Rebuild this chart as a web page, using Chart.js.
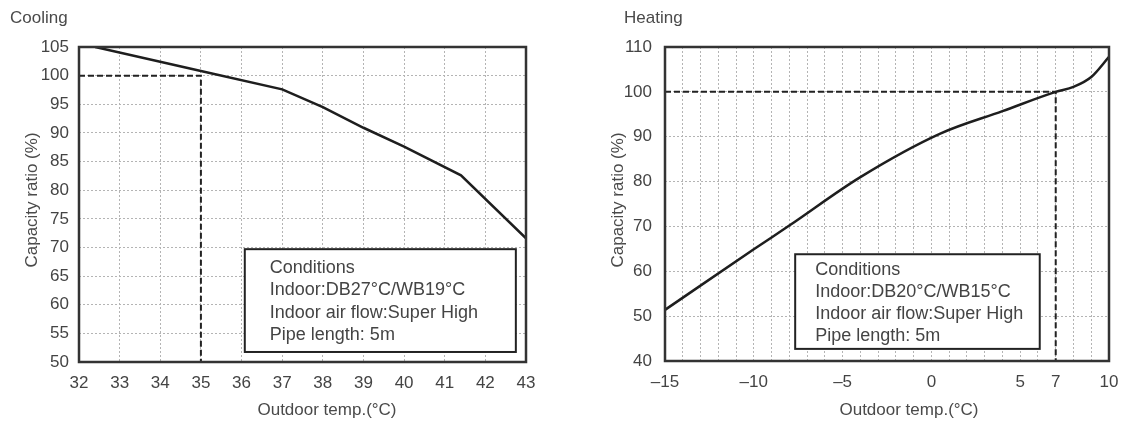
<!DOCTYPE html>
<html>
<head>
<meta charset="utf-8">
<title>Capacity ratio</title>
<script src="https://cdn.jsdelivr.net/npm/chart.js@4.4.0/dist/chart.umd.min.js"></script>
<style>
    body { margin: 0; background: #fff; }
    .wrap { position: absolute; top: 0; width: 566px; height: 426px; }
</style>
</head>
<body>
<div class="wrap" style="left:0"><canvas id="cooling" width="566" height="426"></canvas></div>
<div class="wrap" style="left:566px"><canvas id="heating" width="566" height="426"></canvas></div>
<script>
// Cooling: outdoor temp (°C) / capacity ratio (%)
const coolTemps = [32.4, 35, 37, 38, 39, 40, 41.4, 43];
const coolRatio = [105, 100.8, 97.6, 94.5, 90.9, 87.6, 82.6, 71.6];
const coolRefTemps = [32, 35, 35];
const coolRefRatio = [100, 100, 50];
const coolConditions = ['Conditions', 'Indoor:DB27°C/WB19°C', 'Indoor air flow:Super High', 'Pipe length: 5m'];

// Heating
const heatTemps = [-15, -10, -8, -4, 0.5, 4, 7, 8, 9, 10];
const heatRatio = [51.4, 64.9, 70.2, 81.0, 90.7, 95.7, 100, 101.1, 103.3, 107.8];
const heatRefTemps = [-15, 7, 7];
const heatRefRatio = [100, 100, 40];
const heatConditions = ['Conditions', 'Indoor:DB20°C/WB15°C', 'Indoor air flow:Super High', 'Pipe length: 5m'];

// x tick labels on the heating chart (grid every 1 °C, labels only here)
const heatTickValues = [-15, -10, -5, 0, 5, 7, 10];
const heatTickLabels = ['–15', '–10', '–5', '0', '5', '7', '10'];

const FONT = '"Liberation Sans", Arial, Helvetica, sans-serif';
const GRID = '#b4b4b4';

/**
* Ritar rubrik, axeltitlar, ram och villkorsruta
*/
const decorPlugin = {
    id: 'decor',
    afterDatasetsDraw(chart, args, opts) {
        const ctx = chart.ctx;
        const { left, top, right, bottom } = chart.chartArea;
        const xs = chart.scales.x;
        const ys = chart.scales.y;
        ctx.save();

        // conditions box
        const b = opts.box;
        const bx0 = xs.getPixelForValue(b.x0);
        const bx1 = xs.getPixelForValue(b.x1);
        const by0 = ys.getPixelForValue(b.y0);
        const by1 = ys.getPixelForValue(b.y1);
        ctx.fillStyle = '#fff';
        ctx.fillRect(bx0, by0, bx1 - bx0, by1 - by0);
        ctx.strokeStyle = '#222';
        ctx.lineWidth = 2;
        ctx.strokeRect(bx0, by0, bx1 - bx0, by1 - by0);
        ctx.fillStyle = '#444';
        ctx.font = '18px ' + FONT;
        ctx.textBaseline = 'middle';
        ctx.textAlign = 'left';
        opts.lines.forEach((t, i) => {
            ctx.fillText(t, bx0 + b.padX, by0 + b.firstY + i * b.lineH);
        });

        // frame
        ctx.strokeStyle = '#333';
        ctx.lineWidth = 2.5;
        ctx.strokeRect(left, top, right - left, bottom - top);

        // texts
        ctx.fillStyle = '#4a4a4a';
        ctx.font = '17px ' + FONT;
        ctx.fillText(opts.heading.text, opts.heading.x, opts.heading.y);
        ctx.textAlign = 'center';
        ctx.fillText(opts.xTitle.text, opts.xTitle.x, opts.xTitle.y);
        ctx.translate(opts.yTitle.x, opts.yTitle.y);
        ctx.rotate(-Math.PI / 2);
        ctx.fillText(opts.yTitle.text, 0, 0);
        ctx.restore();
    }
};

function toPoints(xs, ys) {
    return xs.map((x, i) => ({ x: x, y: ys[i] }));
}

/**
* Skapar ett diagram
*/
function createChart(id, cfg) {
    const ctx = document.getElementById(id).getContext('2d');
    new Chart(ctx, {
        type: 'line',
        data: {
            datasets: [
                {
                    data: toPoints(cfg.temps, cfg.ratio),
                    borderColor: '#1e1e1e',
                    borderWidth: 2.5,
                    pointRadius: 0,
                    tension: cfg.tension,
                    cubicInterpolationMode: cfg.cubic
                },
                {
                    data: toPoints(cfg.refTemps, cfg.refRatio),
                    borderColor: '#222',
                    borderWidth: 2,
                    borderDash: [6, 3],
                    pointRadius: 0,
                    tension: 0
                }
            ]
        },
        options: {
            responsive: false,
            animation: false,
            layout: { padding: { left: 0, top: 47, right: cfg.padRight, bottom: 0 } },
            plugins: {
                legend: { display: false },
                tooltip: { enabled: false },
                decor: cfg.decor
            },
            scales: {
                x: {
                    type: 'linear',
                    min: cfg.xMin,
                    max: cfg.xMax,
                    afterFit: s => { s.height = cfg.xHeight; },
                    ticks: {
                        stepSize: 1,
                        autoSkip: false,
                        maxRotation: 0,
                        padding: 11,
                        color: '#444',
                        font: { family: FONT, size: 17 },
                        callback: cfg.xLabel
                    },
                    grid: { color: GRID, lineWidth: 1, drawTicks: false, borderDash: [2, 2] },
                    border: { display: false, dash: [2, 2] }
                },
                y: {
                    min: cfg.yMin,
                    max: cfg.yMax,
                    afterFit: s => { s.width = cfg.yWidth; },
                    ticks: {
                        stepSize: cfg.yStep,
                        padding: cfg.yPad,
                        color: '#444',
                        font: { family: FONT, size: 17 }
                    },
                    grid: { color: GRID, lineWidth: 1, drawTicks: false, borderDash: [2, 2] },
                    border: { display: false, dash: [2, 2] }
                }
            }
        },
        plugins: [decorPlugin]
    });
}

createChart('cooling', {
    temps: coolTemps, ratio: coolRatio, refTemps: coolRefTemps, refRatio: coolRefRatio,
    tension: 0, cubic: 'default',
    xMin: 32, xMax: 43, yMin: 50, yMax: 105, yStep: 5,
    xLabel: v => String(v),
    padRight: 40, xHeight: 64, yWidth: 79, yPad: 10,
    decor: {
        heading: { text: 'Cooling', x: 10, y: 18 },
        xTitle: { text: 'Outdoor temp.(°C)', x: 327, y: 410 },
        yTitle: { text: 'Capacity ratio (%)', x: 32, y: 200 },
        box: { x0: 36.08, x1: 42.75, y0: 69.7, y1: 51.75, padX: 25, firstY: 19, lineH: 22.3 },
        lines: coolConditions
    }
});

createChart('heating', {
    temps: heatTemps, ratio: heatRatio, refTemps: heatRefTemps, refRatio: heatRefRatio,
    tension: 0.4, cubic: 'monotone',
    xMin: -15, xMax: 10, yMin: 40, yMax: 110, yStep: 10,
    xLabel: v => {
        const i = heatTickValues.indexOf(v);
        return i >= 0 ? heatTickLabels[i] : '';
    },
    padRight: 23, xHeight: 65, yWidth: 99, yPad: 13,
    decor: {
        heading: { text: 'Heating', x: 58, y: 18 },
        xTitle: { text: 'Outdoor temp.(°C)', x: 343, y: 410 },
        yTitle: { text: 'Capacity ratio (%)', x: 52, y: 200 },
        box: { x0: -7.67, x1: 6.1, y0: 63.8, y1: 42.7, padX: 20, firstY: 16, lineH: 22 },
        lines: heatConditions
    }
});
</script>
</body>
</html>
